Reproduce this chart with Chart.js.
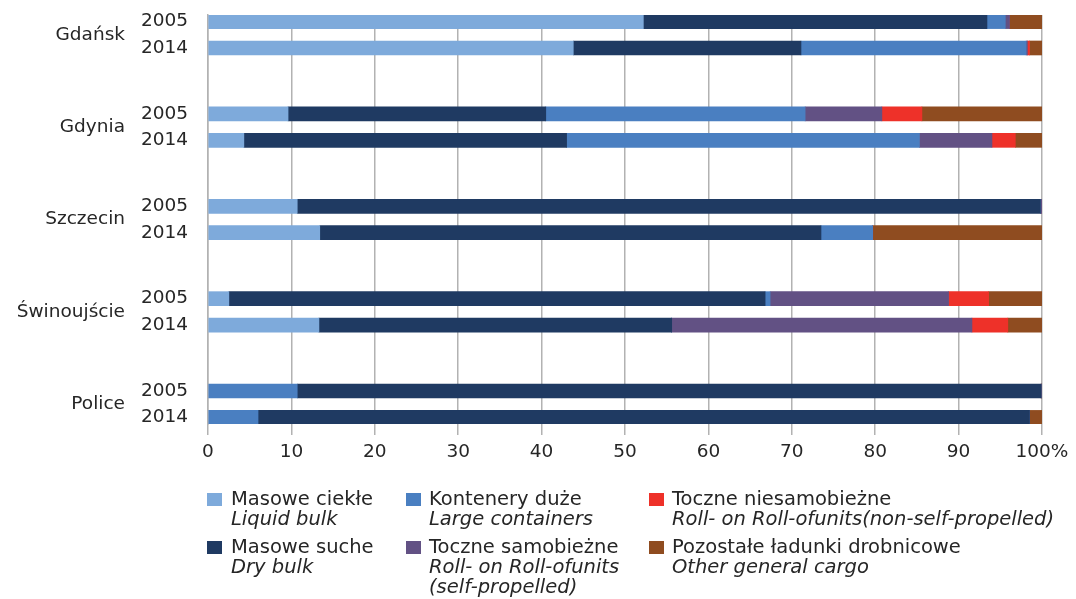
<!DOCTYPE html>
<html>
<head>
<meta charset="utf-8">
<script src="https://cdn.jsdelivr.net/npm/chart.js@4/dist/chart.umd.min.js"></script>
<style>
body{margin:0;background:#fff;}
#wrap{position:relative;width:1076px;height:599px;}
#chart{position:absolute;left:0;top:0;}
.item{position:absolute;font-family:"DejaVu Sans";font-size:19.5px;line-height:20px;color:#262626;white-space:pre;}
.item .sq{position:absolute;width:15px;height:13px;}
.item .en{font-style:italic;}
</style>
</head>
<body>
<div id="wrap">
<canvas id="chart" width="1076" height="599"></canvas>
<div id="legend"></div>
</div>
<script>
//ports and years
var ports=["Gdańsk","Gdynia","Szczecin","Świnoujście","Police"];
var years=["2005","2014"];
var xTickLabels=["0","10","20","30","40","50","60","70","80","90","100%"];

//shares in %, order: Gdańsk 2005, Gdańsk 2014, Gdynia 2005, Gdynia 2014, ... Police 2014
var liquidBulk=[52.2,43.8,9.6,4.3,10.7,13.4,2.5,13.3,10.7,6.0];
var dryBulk=[41.2,27.3,30.9,38.7,89.1,60.1,64.3,42.3,89.2,92.5];
var containers=[2.2,27.0,31.1,42.3,0,6.2,0.6,0,0,0];
var roRoSelf=[0.5,0.15,9.2,8.7,0.2,0,21.4,36.0,0,0];
var roRoNonSelf=[0,0.25,4.8,2.8,0,0,4.8,4.3,0,0];
var otherCargo=[3.9,1.5,14.4,3.2,0,20.3,6.4,4.1,0.1,1.5];

var seriesPl=["Masowe ciekłe","Masowe suche","Kontenery duże","Toczne samobieżne","Toczne niesamobieżne","Pozostałe ładunki drobnicowe"];
var seriesEn=["Liquid bulk","Dry bulk","Large containers","Roll- on Roll-ofunits\n(self-propelled)","Roll- on Roll-ofunits(non-self-propelled)","Other general cargo"];
var seriesColors=["#7eaadb","#1f3a62","#4a7fc1","#625184","#ee3129","#8f4c20"];
var seriesData=[liquidBulk,dryBulk,containers,roRoSelf,roRoNonSelf,otherCargo];

//category slots: 2005, port name, 2014, then blank rows between ports
var yearLabels=[],portLabels=[],slotBar=[];
for(var p=0;p<ports.length;p++){
    yearLabels.push(years[0],"",years[1]);
    portLabels.push("",ports[p],"");
    slotBar.push(p*2,-1,p*2+1);
    if(p<ports.length-1){
        for(var k=0;k<4;k++){
            yearLabels.push("");
            portLabels.push("");
            slotBar.push(-1);
        }
    }
}

var datasets=[];
for(var i=0;i<seriesData.length;i++){
    var values=[],colors=[];
    for(var s=0;s<slotBar.length;s++){
        var b=slotBar[s];
        values.push(b<0?null:seriesData[i][b]);
        //in the original the Police liquid part is drawn in the container colour
        if(i==0&&b>=8){
            colors.push(seriesColors[2]);
        }else{
            colors.push(seriesColors[i]);
        }
    }
    datasets.push({
        label:seriesPl[i],
        data:values,
        backgroundColor:colors,
        borderWidth:0,
        barThickness:14
    });
}

var tickFont={family:"'DejaVu Sans'",size:18.5};
var textColor="#262626";
var gridColor="#b2b2b2";

new Chart(document.getElementById("chart"),{
    type:"bar",
    data:{labels:yearLabels,datasets:datasets},
    options:{
        indexAxis:"y",
        responsive:false,
        animation:false,
        layout:{padding:{left:0,right:34,top:15,bottom:129}},
        plugins:{legend:{display:false},tooltip:{enabled:false}},
        scales:{
            x:{
                stacked:true,min:0,max:100,
                grid:{color:gridColor,lineWidth:1.5,tickLength:11},
                border:{display:false},
                ticks:{stepSize:10,padding:6,color:textColor,font:tickFont,
                    callback:function(v){return xTickLabels[Math.round(v/10)];}},
                afterFit:function(sc){sc.height=46;}
            },
            y:{
                stacked:true,position:"left",weight:0,offset:true,
                //tick length (hidden) used as the gap so it does not pad the top
                grid:{display:false,drawTicks:true,tickLength:20},
                border:{display:true,color:gridColor,width:1.5},
                ticks:{autoSkip:false,padding:0,color:textColor,font:tickFont},
                afterFit:function(sc){sc.width=73;}
            },
            y2:{
                type:"category",labels:portLabels,position:"left",weight:1,offset:true,
                grid:{display:false,drawTicks:true,tickLength:10},
                border:{display:false},
                ticks:{autoSkip:false,padding:0,color:textColor,font:tickFont},
                afterFit:function(sc){sc.width=135;}
            }
        }
    }
});

//legend: three columns, two rows
var textLeft=[231,429,672];
var squareLeft=[207,406,649];
var lineTop=[488.7,536.5];
var legend=document.getElementById("legend");
for(var j=0;j<seriesPl.length;j++){
    var col=Math.floor(j/2),row=j%2;
    var item=document.createElement("div");
    item.className="item";
    item.style.left=textLeft[col]+"px";
    item.style.top=lineTop[row]+"px";
    var sq=document.createElement("div");
    sq.className="sq";
    sq.style.left=(squareLeft[col]-textLeft[col])+"px";
    sq.style.top="4px";
    sq.style.background=seriesColors[j];
    item.appendChild(sq);
    var pl=document.createElement("div");
    pl.textContent=seriesPl[j];
    item.appendChild(pl);
    var en=document.createElement("div");
    en.className="en";
    en.textContent=seriesEn[j];
    item.appendChild(en);
    legend.appendChild(item);
}
</script>
</body>
</html>
